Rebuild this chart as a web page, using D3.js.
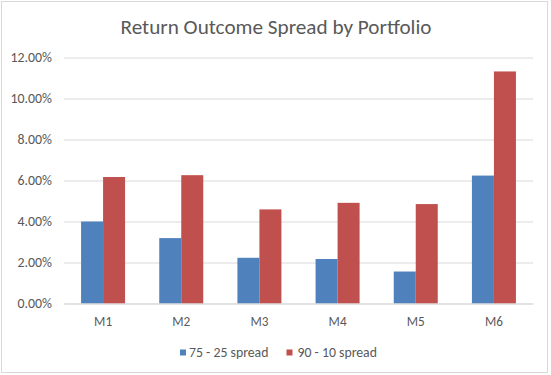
<!DOCTYPE html>
<html>
<head>
<meta charset="utf-8">
<script src="https://cdn.jsdelivr.net/npm/d3@7"></script>
<style>
  html, body { margin: 0; padding: 0; background: #fff; }
  svg { display: block; }
  text { font-family: Carlito, Lato, "Liberation Sans", sans-serif; fill: #595959; }
</style>
</head>
<body>
<svg id="chart" width="551" height="375"></svg>
<script>
const title = "Return Outcome Spread by Portfolio";
const categories = ["M1", "M2", "M3", "M4", "M5", "M6"];
const seriesNames = ["75 - 25 spread", "90 - 10 spread"];
const spread7525 = [0.0400, 0.0319, 0.0223, 0.0217, 0.0156, 0.0624];
const spread9010 = [0.0617, 0.0626, 0.0459, 0.0491, 0.0485, 0.1132];
const yTicks = [0, 0.02, 0.04, 0.06, 0.08, 0.10, 0.12];
const colors = ["#4f81bd", "#c0504d"];

const svg = d3.select("#chart");
const plot = { left: 64, right: 533, top: 57.5, bottom: 303.5 };

// chart border
svg.append("rect").attr("x", 1.5).attr("y", 1.5).attr("width", 546).attr("height", 371)
  .attr("fill", "#fff").attr("stroke", "#d9d9d9").attr("stroke-width", 1);

function fit(sel, target) {
  const node = sel.node();
  const fs = parseFloat(sel.attr("font-size"));
  const w = node.getComputedTextLength();
  if (w > 0) sel.attr("font-size", (fs * target / w).toFixed(2));
  return sel;
}

const x0 = d3.scaleBand().domain(categories).range([plot.left, plot.right])
  .paddingInner(0.437).paddingOuter(0.2185);
const x1 = d3.scaleBand().domain([0, 1]).range([0, x0.bandwidth()]).padding(0);
const y = d3.scaleLinear().domain([0, 0.12]).range([plot.bottom, plot.top]);

// gridlines + y labels
const yAxis = d3.axisLeft(y).tickValues(yTicks).tickFormat(d3.format(".2%"))
  .tickSize(-(plot.right - plot.left)).tickPadding(12);
const gy = svg.append("g").attr("transform", `translate(${plot.left},0)`).call(yAxis);
gy.select(".domain").remove();
gy.selectAll(".tick line").attr("stroke", "#d9d9d9").attr("stroke-width", 1);
gy.selectAll(".tick text").attr("font-size", 12).attr("fill", "#595959")
  .style("font-family", "Carlito, Lato, 'Liberation Sans', sans-serif");
{
  const t = gy.selectAll(".tick text").filter(d => d === 0.12);
  const w = t.node().getComputedTextLength();
  const fs = 12 * 41.5 / w;
  gy.selectAll(".tick text").attr("font-size", fs.toFixed(2));
}

// bars
const data = categories.map((c, i) => ({ cat: c, vals: [spread7525[i], spread9010[i]] }));
const groups = svg.append("g").selectAll("g").data(data).join("g")
  .attr("transform", d => `translate(${x0(d.cat)},0)`);
groups.selectAll("rect").data(d => d.vals.map((v, k) => ({ v, k }))).join("rect")
  .attr("x", d => x1(d.k))
  .attr("y", d => y(d.v))
  .attr("width", x1.bandwidth())
  .attr("height", d => y(0) - y(d.v))
  .attr("fill", d => colors[d.k]);

// x axis
const xAxis = d3.axisBottom(x0).tickSize(0).tickPadding(13);
const gx = svg.append("g").attr("transform", `translate(0,${plot.bottom})`).call(xAxis);
gx.select(".domain").attr("stroke", "#d9d9d9");
gx.selectAll(".tick text").attr("font-size", 12).attr("fill", "#595959")
  .style("font-family", "Carlito, Lato, 'Liberation Sans', sans-serif");
{
  const t = gx.selectAll(".tick text").filter(d => d === "M1");
  const w = t.node().getComputedTextLength();
  gx.selectAll(".tick text").attr("font-size", (12 * 18 / w).toFixed(2));
}

// title
const tt = svg.append("text").attr("x", 276).attr("y", 33.5).attr("text-anchor", "middle")
  .attr("font-size", 18.67).text(title);
fit(tt, 311);

// legend
const legendItems = [
  { name: seriesNames[0], color: colors[0], sx: 180, tx: 189 },
  { name: seriesNames[1], color: colors[1], sx: 286.5, tx: 297.5 }
];
const lg = svg.append("g");
legendItems.forEach(it => {
  lg.append("rect").attr("x", it.sx).attr("y", 349.5).attr("width", 6).attr("height", 6).attr("fill", it.color);
  const t = lg.append("text").attr("x", it.tx).attr("y", 356.5).attr("font-size", 12).text(it.name);
  fit(t, 79.5);
});
</script>
</body>
</html>
